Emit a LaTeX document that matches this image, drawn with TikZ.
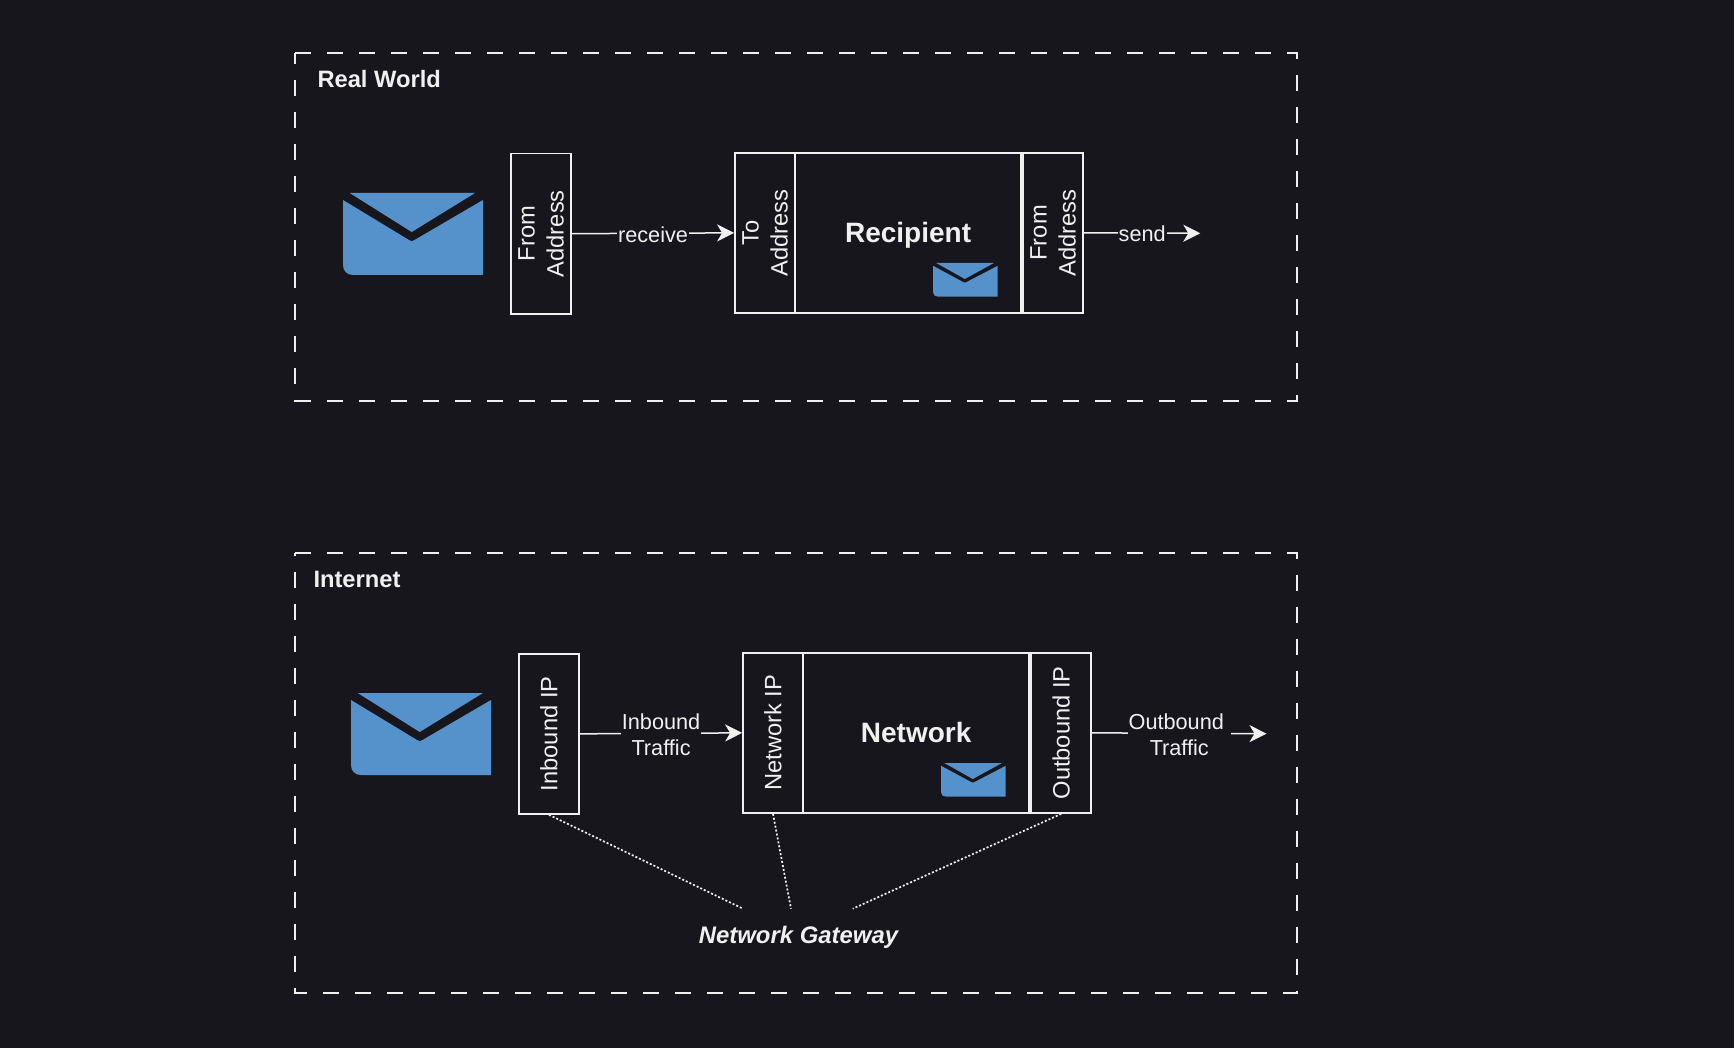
\documentclass[tikz,border=0pt]{standalone}
\usepackage{fontspec}
\setmainfont{Liberation Sans}
\usetikzlibrary{arrows.meta}

\definecolor{bgcol}{HTML}{18161D}
\definecolor{fgcol}{HTML}{F0F0F0}
\definecolor{mailcol}{HTML}{5591CB}

\tikzset{>=latex}
\tikzset{
	envelope/.pic={
		\fill[mailcol] (6.7,0) -- (132,0) -- (68.7,39) -- cycle;
		\fill[mailcol] (0,7) -- (66,47) .. controls (68,48.8) and (69.5,48.8) .. (71.5,47) -- (140,7) -- (140,82) -- (10,82) .. controls (4,82) and (0,78) .. (0,72) -- cycle;
	}
}

\begin{document}
\begin{tikzpicture}[x=1pt,y=-1pt]

	\tikzstyle{frame_line} = [draw=fgcol, line width=1.7pt, dash pattern=on 16pt off 16pt]
	\tikzstyle{title_bold} = [text=fgcol, inner sep=0pt, anchor=base west, font=\fontsize{23.7}{29}\selectfont\bfseries]
	\tikzstyle{side_box} = [draw=fgcol, line width=1.7pt, rotate=90, text=fgcol, align=center, inner sep=0pt, font=\fontsize{23.7}{29}\selectfont]
	\tikzstyle{main_box} = [draw=fgcol, line width=1.7pt, text=fgcol, inner sep=0pt, text height=20pt, text depth=0.3pt, font=\fontsize{28}{34}\selectfont\bfseries]
	\tikzstyle{link} = [color=fgcol, line width=1.5pt, -{Stealth[length=17pt,width=17pt,inset=5pt]}]
	\tikzstyle{link_label} = [fill=bgcol, text=fgcol, align=center, inner sep=1pt, yshift=-1pt, font=\fontsize{21.7}{26}\selectfont]
	\tikzstyle{gateway_line} = [color=fgcol, line width=1.7pt, dash pattern=on 2pt off 2pt]

	\fill[bgcol] (0,0) rectangle (1734,1048);

%------------------------------------------------------------
	\coordinate (rw_a) at (295,53);
	\coordinate (rw_b) at (1297,53);
	\coordinate (rw_c) at (1297,400.7);
	\coordinate (rw_d) at (295,400.7);
	\draw[frame_line] (rw_a) -- (rw_b) -- (rw_c) -- (rw_d) -- cycle;

	\node[title_bold] (rw_title) at (317.3,87.4) {Real World};

	\pic (rw_mail) at (343,193) {envelope};

	\node[side_box, minimum width=160.3pt, minimum height=60.2pt] (rw_in) at (541,233.7) {From\\Address};

	\node[side_box, minimum width=160.3pt, minimum height=60.1pt] (rw_to) at (765,232.85) {To\\Address};
	\node[main_box, minimum width=226.2pt, minimum height=160.3pt] (rw_rec) at (908.1,232.85) {Recipient};
	\node[side_box, minimum width=160.3pt, minimum height=60.1pt] (rw_out) at (1053.15,232.85) {From\\Address};

	\pic[xscale=.46,yscale=.41] (rw_mail_small) at (933.2,263) {envelope};

	\coordinate (rw_end) at (1200.3,233.3);

	\path[link] (rw_in.south) edge node[link_label] {receive} (rw_to.north);
	\path[link] (rw_out.south) edge node[link_label] {send} (rw_end);

%------------------------------------------------------------
	\coordinate (net_a) at (295,553);
	\coordinate (net_b) at (1297,553);
	\coordinate (net_c) at (1297,992.7);
	\coordinate (net_d) at (295,992.7);
	\draw[frame_line] (net_a) -- (net_b) -- (net_c) -- (net_d) -- cycle;

	\node[title_bold] (net_title) at (313.3,587.4) {Internet};

	\pic (net_mail) at (351,693) {envelope};

	\node[side_box, minimum width=160.3pt, minimum height=60.2pt] (net_in) at (549,733.85) {Inbound IP};

	\node[side_box, minimum width=160.3pt, minimum height=60pt] (net_ip) at (773,732.85) {Network IP};
	\node[main_box, minimum width=226.3pt, minimum height=160.3pt] (net_box) at (916.15,732.85) {Network};
	\node[side_box, minimum width=160.3pt, minimum height=60pt] (net_out) at (1061.2,732.85) {Outbound IP};

	\pic[xscale=.46,yscale=.41] (net_mail_small) at (941.2,763) {envelope};

	\coordinate (net_end) at (1266.5,733.7);

	\path[link] (net_in.south) edge node[link_label] {Inbound\\Traffic} (net_ip.north);
	\path[link] (net_out.south) edge node[link_label] {Outbound\hbox to 6pt{}\\Traffic} (net_end);

%------------------------------------------------------------
	\node[text=fgcol, inner sep=0pt, font=\fontsize{23.9}{29}\selectfont\bfseries\itshape] (gateway) at (798.5,937) {Network Gateway};

	\coordinate (gw_a) at (743,908.7);
	\coordinate (gw_b) at (791,908.7);
	\coordinate (gw_c) at (852.8,908.7);

	\path[gateway_line] (net_in.west) edge (gw_a);
	\path[gateway_line] (net_ip.west) edge (gw_b);
	\path[gateway_line] (net_out.west) edge (gw_c);

\end{tikzpicture}
\end{document}
